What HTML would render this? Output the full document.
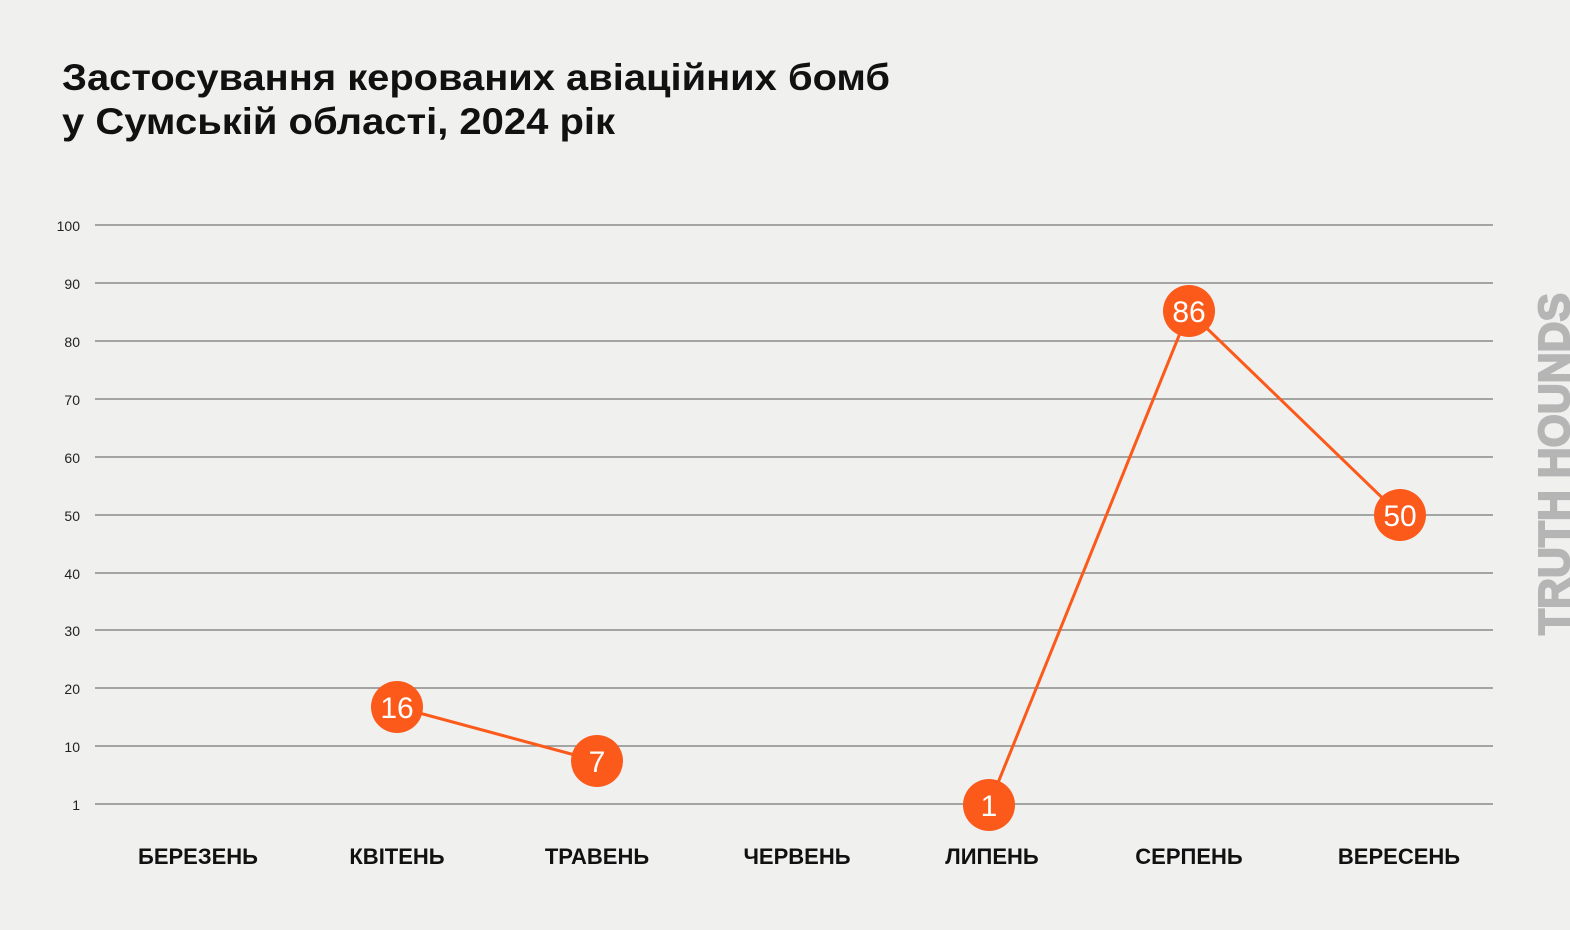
<!DOCTYPE html>
<html><head><meta charset="utf-8"><style>
html,body{margin:0;padding:0;background:#f0f0f0;}
svg{display:block}
</style></head><body>
<svg width="1570" height="930" xmlns="http://www.w3.org/2000/svg">
<rect width="1570" height="930" fill="#f0f0ef"/>
<g font-family="Liberation Sans, DejaVu Sans, sans-serif" font-weight="bold" fill="#111" font-size="37">
<text x="62" y="90" textLength="828" lengthAdjust="spacingAndGlyphs">Застосування керованих авіаційних бомб</text>
<text x="62" y="134" textLength="553" lengthAdjust="spacingAndGlyphs">у Сумській області, 2024 рік</text>
</g>
<g stroke="#8a8a8a" stroke-width="1.5">
<line x1="95" x2="1493" y1="225" y2="225"/>
<line x1="95" x2="1493" y1="283" y2="283"/>
<line x1="95" x2="1493" y1="341" y2="341"/>
<line x1="95" x2="1493" y1="399" y2="399"/>
<line x1="95" x2="1493" y1="457" y2="457"/>
<line x1="95" x2="1493" y1="515" y2="515"/>
<line x1="95" x2="1493" y1="573" y2="573"/>
<line x1="95" x2="1493" y1="630" y2="630"/>
<line x1="95" x2="1493" y1="688" y2="688"/>
<line x1="95" x2="1493" y1="746" y2="746"/>
<line x1="95" x2="1493" y1="804" y2="804"/>
</g>
<g font-family="Liberation Sans, sans-serif" font-size="14" fill="#222" text-anchor="end">
<text x="80" y="231">100</text><text x="80" y="289">90</text><text x="80" y="347">80</text>
<text x="80" y="405">70</text><text x="80" y="463">60</text><text x="80" y="521">50</text>
<text x="80" y="579">40</text><text x="80" y="636">30</text><text x="80" y="694">20</text>
<text x="80" y="752">10</text><text x="80" y="810">1</text>
</g>
<g font-family="Liberation Sans, sans-serif" font-size="22" font-weight="bold" fill="#111" text-anchor="middle">
<text x="198" y="864">БЕРЕЗЕНЬ</text><text x="397" y="864">КВІТЕНЬ</text>
<text x="597" y="864">ТРАВЕНЬ</text><text x="797" y="864">ЧЕРВЕНЬ</text>
<text x="992" y="864">ЛИПЕНЬ</text><text x="1189" y="864">СЕРПЕНЬ</text>
<text x="1399" y="864">ВЕРЕСЕНЬ</text>
</g>
<g stroke="#fb5a1a" stroke-width="3" fill="none">
<polyline points="397,707 597,761"/>
<polyline points="989,805 1189,311 1400,515"/>
</g>
<g fill="#fb5a1a">
<circle cx="397" cy="707" r="26"/><circle cx="597" cy="761" r="26"/>
<circle cx="989" cy="805" r="26"/><circle cx="1189" cy="311" r="26"/>
<circle cx="1400" cy="515" r="26"/>
</g>
<g font-family="Liberation Sans, sans-serif" font-size="30" fill="#fff" text-anchor="middle">
<text x="397" y="718">16</text><text x="597" y="772">7</text>
<text x="989" y="816">1</text><text x="1189" y="322">86</text>
<text x="1400" y="526">50</text>
</g>
<text transform="translate(1569,635) rotate(-90)" font-family="Liberation Sans Narrow, Liberation Sans, sans-serif" font-weight="bold" font-size="44" fill="#b5b5b5" stroke="#b5b5b5" stroke-width="2" textLength="342" lengthAdjust="spacingAndGlyphs">TRUTH HOUNDS</text>
</svg>
</body></html>
